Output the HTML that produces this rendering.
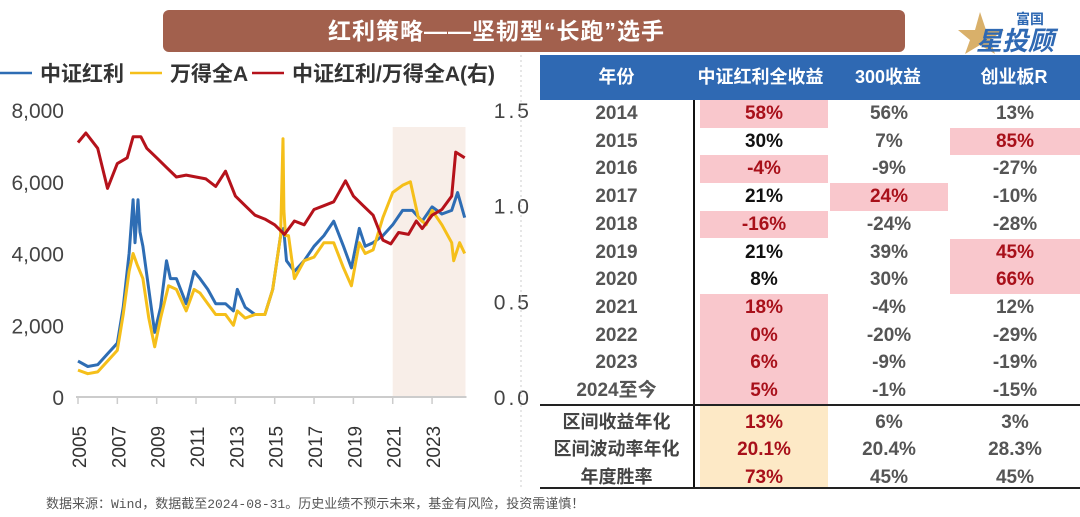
<!DOCTYPE html>
<html><head><meta charset="utf-8">
<style>
body{margin:0;width:1080px;height:517px;background:#fff;position:relative;overflow:hidden;font-family:"Liberation Sans","Noto Sans CJK SC",sans-serif}
.abs{position:absolute}
#banner{left:163px;top:10px;width:742px;height:42px;background:#a2604d;border-radius:6px;color:#fff;font-weight:bold;font-size:23px;line-height:42px;padding-left:165px;box-sizing:border-box;letter-spacing:1px}
#logo{left:958px;top:4px;width:110px;height:50px}
#table{left:540px;top:55px;width:540px}
.hdr{position:absolute;top:0;height:45px;width:540px;background:#2f69b3}
.hc{position:absolute;top:0;height:45px;line-height:45px;color:#fff;font-weight:bold;font-size:18px;text-align:center}
.cell{position:absolute;height:27.7px;line-height:27.7px;text-align:center;font-weight:bold;font-size:19px;color:#555}
.pink{background:#f9c7cc}
.red{color:#a8101a}
.blk{color:#111}
#foot{left:46px;top:493px;font-size:13px;color:#555;font-family:"Liberation Mono","Noto Sans CJK SC",monospace}
</style></head><body>
<div id="banner" class="abs">红利策略——坚韧型“长跑”选手</div>
<svg id="logo" class="abs" viewBox="0 0 110 50">
<polygon points="22,8 28,26 46,26 32,36 37,50 22,41 7,50 12,36 0,26 17,26" fill="#d9b06a"/>
<text x="58" y="20" font-size="14" font-weight="bold" fill="#2f69b3" font-family="Noto Sans CJK SC,sans-serif">富国</text>
<text x="18" y="46" font-size="26" font-weight="bold" fill="#2f69b3" font-style="italic" font-family="Noto Sans CJK SC,sans-serif">星投顾</text>
</svg>
<svg class="abs" style="left:0;top:0" width="540" height="490" id="chart"></svg>
<div id="table" class="abs"></div>
<div id="foot" class="abs">数据来源：Wind，数据截至2024-08-31。历史业绩不预示未来，基金有风险，投资需谨慎！</div>
<script>
const blueT=[2005,2005.5,2006,2006.5,2007,2007.3,2007.6,2007.8,2007.9,2008.05,2008.15,2008.3,2008.6,2008.9,2009.2,2009.5,2009.7,2010,2010.5,2010.9,2011.2,2011.6,2012,2012.5,2012.9,2013.1,2013.5,2014,2014.5,2014.9,2015.3,2015.45,2015.6,2016,2016.5,2017,2017.5,2018,2018.5,2018.9,2019.3,2019.6,2020,2020.5,2021,2021.5,2022,2022.5,2023,2023.5,2024,2024.3,2024.66];
const blueV=[1000,850,900,1200,1500,2500,4000,5500,4300,5500,4600,4200,3000,1800,2500,3800,3300,3300,2600,3500,3300,3000,2600,2600,2400,3000,2500,2300,2300,3000,4500,4700,3800,3500,3800,4200,4500,4900,4200,3600,4700,4200,4300,4500,4800,5200,5200,4900,5300,5100,5200,5700,5000];
const yelT=[2005,2005.5,2006,2006.5,2007,2007.3,2007.6,2007.8,2008,2008.3,2008.6,2008.9,2009.2,2009.6,2010,2010.5,2010.9,2011.2,2011.6,2012,2012.5,2012.9,2013.1,2013.5,2014,2014.5,2014.9,2015.3,2015.42,2015.47,2015.55,2015.7,2016,2016.5,2017,2017.5,2018,2018.5,2018.9,2019.3,2019.6,2020,2020.5,2021,2021.5,2021.9,2022.3,2022.7,2023,2023.5,2024,2024.1,2024.4,2024.66];
const yelV=[750,650,700,1000,1300,2300,3500,4000,3700,3300,2200,1400,2200,3100,3000,2400,3000,2900,2600,2300,2300,2000,2400,2200,2300,2300,3000,4500,7200,5200,4500,4500,3300,3800,3900,4300,4300,3600,3100,4300,4000,4100,5000,5700,5900,6000,5000,4800,5200,4800,4300,3800,4300,4000];
const redT=[2005,2005.4,2006,2006.5,2007,2007.5,2007.8,2008.2,2008.5,2009,2009.5,2010,2010.5,2011,2011.5,2012,2012.5,2013,2013.5,2014,2014.5,2015,2015.5,2016,2016.5,2017,2017.5,2018,2018.6,2019,2019.5,2020,2020.5,2020.9,2021.3,2021.8,2022.2,2022.5,2023,2023.5,2024,2024.2,2024.66];
const redV=[1.33,1.38,1.3,1.09,1.22,1.25,1.36,1.36,1.3,1.25,1.2,1.15,1.16,1.15,1.14,1.1,1.18,1.05,1.0,0.95,0.93,0.9,0.85,0.92,0.9,0.98,1.0,1.02,1.13,1.05,1.0,0.95,0.82,0.8,0.86,0.85,0.92,0.88,0.95,0.98,1.05,1.28,1.25];
const leftTicks=[0,2000,4000,6000,8000];
const leftLabels=["0","2,000","4,000","6,000","8,000"];
const rightTicks=[0,0.5,1.0,1.5];
const rightLabels=["0.0","0.5","1.0","1.5"];
const xTicks=[2005,2007,2009,2011,2013,2015,2017,2019,2021,2023];
const NS="http://www.w3.org/2000/svg";
const svg=document.getElementById('chart');
const X=t=>78+(t-2005)*19.67;
const YL=v=>397-v*287/8000;
const YR=v=>397-v*287/1.5;
function mk(tag,at,parent){const e=document.createElementNS(NS,tag);for(const k in at)e.setAttribute(k,at[k]);(parent||svg).appendChild(e);return e;}
let sh=mk('rect',{x:X(2021),y:127,width:X(2024.7)-X(2021),height:270,fill:'#f8eee8'});


let ax=mk('line',{x1:76,x2:X(2024.75),y1:397,y2:397,stroke:'#ccc','stroke-width':2});


leftTicks.forEach((v,i)=>{let t=mk('text',{x:64,y:YL(v)+8,'text-anchor':'end','font-size':21,fill:'#444'});t.textContent=leftLabels[i];

});
rightTicks.forEach((v,i)=>{let t=mk('text',{x:532,y:YR(v)+8,'text-anchor':'end','font-size':21,fill:'#444','letter-spacing':3});t.textContent=rightLabels[i];

});
xTicks.forEach(y=>{mk('line',{x1:X(y),x2:X(y),y1:397,y2:404,stroke:'#ccc','stroke-width':1.5});
let t=mk('text',{transform:`translate(${X(y)+8},${447}) rotate(-90)`,'text-anchor':'middle','font-size':19,fill:'#333'});t.textContent=y;

});
function line(T,V,Y,c,name){const d=T.map((t,i)=>(i?'L':'M')+X(t).toFixed(1)+','+Y(V[i]).toFixed(1)).join('');
const p=mk('path',{d:d,fill:'none',stroke:c,'stroke-width':3,'stroke-linejoin':'round'});

}
line(blueT,blueV,YL,'#2e6db4','series-csi-dividend');
line(yelT,yelV,YL,'#f5bf1a','series-wind-all-a');
line(redT,redV,YR,'#b5121b','series-ratio');
const lg=[['中证红利','#2e6db4',0],['万得全A','#f5bf1a',130],['中证红利/万得全A(右)','#b5121b',252]];
lg.forEach(l=>{const g=mk('g',{});


mk('line',{x1:l[2],x2:l[2]+32,y1:73,y2:73,stroke:l[1],'stroke-width':2.5},g);
const t=mk('text',{x:l[2]+40,y:81,'font-size':21,'font-weight':'bold',fill:'#333'},g);t.textContent=l[0];});
mk('line',{x1:521,x2:521,y1:55,y2:490,stroke:'#ccc','stroke-width':1,'stroke-dasharray':'2,3'});

const tb=document.getElementById('table');
const cols=[[0,153],[153,135],[288,120],[408,132]];
const heads=['年份','中证红利全收益','300收益','创业板R'];
let h='<div class="hdr"></div>';
heads.forEach((t,i)=>h+=`<div class="hc" style="left:${cols[i][0]}px;width:${cols[i][1]}px">${t}</div>`);
const years=['2014','2015','2016','2017','2018','2019','2020','2021','2022','2023','2024至今','区间收益年化','区间波动率年化','年度胜率'];
const c1=['58%','30%','-4%','21%','-16%','21%','8%','18%','0%','6%','5%','13%','20.1%','73%'];
const c2=['56%','7%','-9%','24%','-24%','39%','30%','-4%','-20%','-9%','-1%','6%','20.4%','45%'];
const c3=['13%','85%','-27%','-10%','-28%','45%','66%','12%','-29%','-19%','-15%','3%','28.3%','45%'];
const p1=[1,0,1,0,1,0,0,1,1,1,1,0,0,0], p2=[0,0,0,1,0,0,0,0,0,0,0,0,0,0], p3=[0,1,0,0,0,1,1,0,0,0,0,0,0,0];
h+='<div style="position:absolute;left:160px;top:350px;width:128px;height:82px;background:#fde9c6"></div>';
for(let r=0;r<14;r++){const top=45+r*27.7+(r>10?4:0);
h+=`<div class="cell" style="left:0;width:153px;top:${top}px;${r>10?'color:#444;font-size:18px':''}">${years[r]}</div>`;
h+=`<div class="cell ${p1[r]?'pink':''} ${(p1[r]||r>10)?'red':'blk'}" style="left:160px;width:128px;top:${top}px">${c1[r]}</div>`;
h+=`<div class="cell ${p2[r]?'pink red':''}" style="left:290px;width:118px;top:${top}px">${c2[r]}</div>`;
h+=`<div class="cell ${p3[r]?'pink red':''}" style="left:410px;width:130px;top:${top}px">${c3[r]}</div>`;}
h+='<div style="position:absolute;left:153px;top:45px;width:2px;height:388px;background:#111"></div>';
h+='<div style="position:absolute;left:0;top:349px;width:540px;height:2px;background:#222"></div>';
h+='<div style="position:absolute;left:0;top:432px;width:540px;height:2px;background:#222"></div>';
tb.innerHTML=h;
</script>
</body></html>
